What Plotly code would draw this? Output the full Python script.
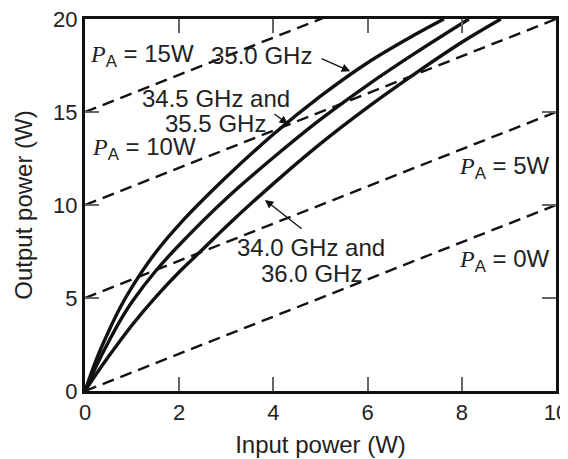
import plotly.graph_objects as go

# ---- data ----
pa_levels = [0, 5, 10, 15]           # dashed lines: P_out = P_in + P_A
pin_range = [0, 10]

top_x = [0, 0.25, 0.5, 0.75, 1.0, 1.5, 2.0, 3.0, 4.0, 5.0, 6.0, 7.0, 7.62]
top_y = [0, 1.75, 3.2, 4.5, 5.6, 7.45, 8.95, 11.5, 13.8, 15.85, 17.65, 19.15, 20.0]

mid_x = [0, 0.25, 0.5, 0.75, 1.0, 1.5, 2.0, 3.0, 4.0, 5.0, 6.0, 7.0, 8.15]
mid_y = [0, 1.4, 2.65, 3.8, 4.8, 6.45, 7.85, 10.35, 12.55, 14.6, 16.45, 18.15, 20.0]

bot_x = [0, 0.25, 0.5, 1.0, 1.5, 2.0, 2.45, 3.0, 4.0, 5.0, 6.0, 7.0, 8.0, 8.83]
bot_y = [0, 0.95, 1.85, 3.55, 5.05, 6.4, 7.5, 8.85, 11.15, 13.3, 15.25, 17.05, 18.75, 20.0]

x_ticks = [0, 2, 4, 6, 8, 10]
y_ticks = [0, 5, 10, 15, 20]

FONT = "Liberation Sans, Arial, sans-serif"
TXT = "#222222"
INK = "#111111"
FS = 24
FS_TICK = 22

fig = go.Figure()

for pa in pa_levels:
    fig.add_trace(go.Scatter(
        x=pin_range, y=[pin_range[0] + pa, pin_range[1] + pa],
        mode="lines", line=dict(color=INK, width=2.4, dash="12px,7px"),
        showlegend=False, hoverinfo="skip"))

for xs, ys in [(top_x, top_y), (mid_x, mid_y), (bot_x, bot_y)]:
    fig.add_trace(go.Scatter(
        x=xs, y=ys, mode="lines",
        line=dict(color=INK, width=3.4, shape="spline", smoothing=1.0),
        showlegend=False, hoverinfo="skip"))

def pa_text(val):
    return ('<span style="font-family:Liberation Serif"><i>P</i></span>'
            '<sub>A</sub> = ' + val)

ann = []
def text(x, y, s):
    ann.append(dict(x=x, y=y, xref="x", yref="y", text=s, showarrow=False,
                    font=dict(family=FONT, size=FS, color=TXT),
                    xanchor="center", yanchor="middle"))

def arrow(x0, y0, x1, y1):
    ann.append(dict(x=x1, y=y1, ax=x0, ay=y0, xref="x", yref="y",
                    axref="x", ayref="y", text="", showarrow=True,
                    arrowhead=2, arrowsize=1.3, arrowwidth=1.3,
                    arrowcolor=INK))

text(1.22, 18.06, pa_text("15W"))
text(3.74, 18.06, "35.0 GHz")
arrow(4.99, 17.9, 5.63, 17.19)
text(2.78, 15.75, "34.5 GHz and")
text(2.78, 14.4, "35.5 GHz")
arrow(3.99, 14.95, 4.31, 14.35)
text(1.25, 13.06, pa_text("10W"))
text(8.9, 12.04, pa_text("5W"))
text(4.8, 7.69, "34.0 GHz and")
text(4.8, 6.34, "36.0 GHz")
arrow(4.63, 8.66, 3.82, 10.27)
text(8.9, 7.04, pa_text("0W"))

axis_common = dict(
    showgrid=False, zeroline=False, showline=True, linecolor=INK, linewidth=3,
    mirror="ticks", ticks="inside", ticklen=14, tickwidth=1.5, tickcolor="#666",
    automargin=False, ticklabeloverflow="allow",
    tickfont=dict(family=FONT, size=FS_TICK, color=TXT),
    title_font=dict(family=FONT, size=FS, color=TXT))

# the page adds an 8px body margin, so the figure is sized/margined to compensate
fig.update_layout(
    width=560, height=451,
    margin=dict(l=77, r=12, t=11, b=68),
    paper_bgcolor="white", plot_bgcolor="white",
    annotations=ann,
    xaxis=dict(range=[0, 10], tickvals=x_ticks,
               title=dict(text="Input power (W)", standoff=12), **axis_common),
    yaxis=dict(range=[0, 20], tickvals=y_ticks,
               title=dict(text="Output power (W)", standoff=14), **axis_common),
)

fig.write_html("out.html")
